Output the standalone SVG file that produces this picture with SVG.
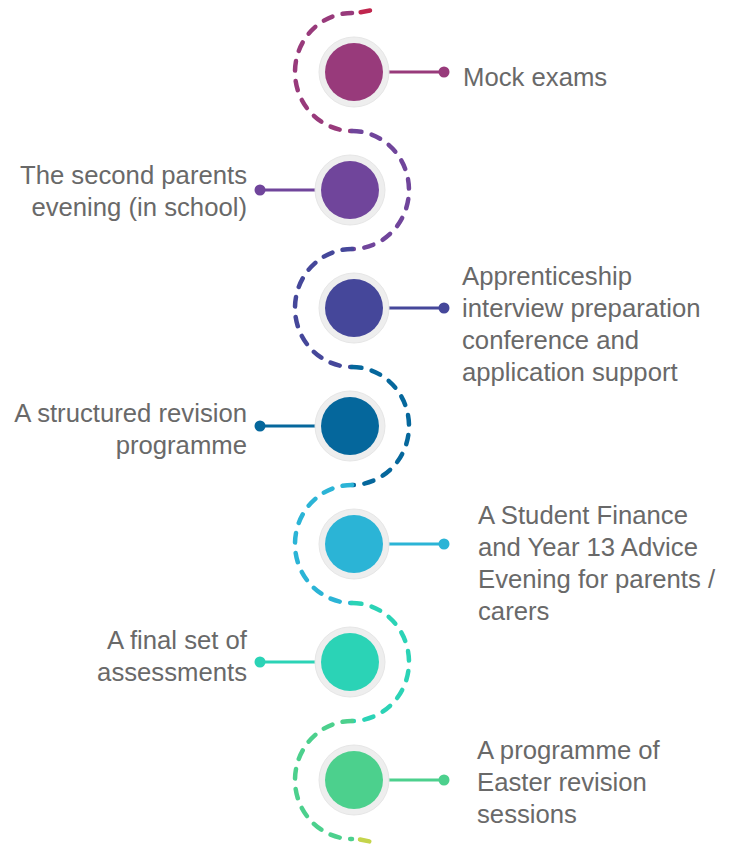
<svg xmlns="http://www.w3.org/2000/svg" width="729" height="845" viewBox="0 0 729 845">
<style>
.bg{fill:#ffffff}
.ring{fill:#eeeeee;stroke:#e6e6e6;stroke-width:1}
.dash{fill:none;stroke-width:4.5;stroke-linecap:round;stroke-dasharray:9.5 10.5}
.lead{stroke-width:3;fill:none}
.t{font-family:"Liberation Sans",Arial,sans-serif;font-size:25.7px;fill:#696969}
.l{text-anchor:end}
</style>
<rect class="bg" x="0" y="0" width="729" height="845"/>
<g id="connectors">
<path class="dash" stroke="#C0264E" d="M 370 10.5 L 359 12.5"/>
<path class="dash" stroke="#983A7B" d="M 352 13 A 57 59 0 0 0 352 131"/>
<path class="dash" stroke="#70459B" d="M 352 131 A 57 59 0 0 1 352 249"/>
<path class="dash" stroke="#45479A" d="M 352 249 A 57 59 0 0 0 352 367"/>
<path class="dash" stroke="#05679C" d="M 352 367 A 57 59 0 0 1 352 485"/>
<path class="dash" stroke="#2BB4D6" d="M 352 485 A 57 59 0 0 0 352 603"/>
<path class="dash" stroke="#2BD3B6" d="M 352 603 A 57 59 0 0 1 352 721"/>
<path class="dash" stroke="#4CD08D" d="M 352 721 A 57 59 0 0 0 352 839"/>
<path class="dash" stroke="#C4D44B" d="M 360 839.5 L 370 841.5"/>
</g>
<g id="node1">
<line class="lead" stroke="#983A7B" x1="383" y1="72" x2="444" y2="72"/>
<circle cx="444" cy="72" r="5.5" fill="#983A7B"/>
<circle class="ring" cx="354" cy="72" r="35"/>
<circle cx="354" cy="72" r="29" fill="#983A7B"/>
<text class="t" x="463" y="86">Mock exams</text>
</g>
<g id="node2">
<line class="lead" stroke="#70459B" x1="260" y1="190" x2="321" y2="190"/>
<circle cx="260" cy="190" r="5.5" fill="#70459B"/>
<circle class="ring" cx="350" cy="190" r="35"/>
<circle cx="350" cy="190" r="29" fill="#70459B"/>
<text class="t l" x="247" y="184">The second parents</text>
<text class="t l" x="247" y="216">evening (in school)</text>
</g>
<g id="node3">
<line class="lead" stroke="#45479A" x1="383" y1="308" x2="444" y2="308"/>
<circle cx="444" cy="308" r="5.5" fill="#45479A"/>
<circle class="ring" cx="354" cy="308" r="35"/>
<circle cx="354" cy="308" r="29" fill="#45479A"/>
<text class="t" x="462" y="285">Apprenticeship</text>
<text class="t" x="462" y="317">interview preparation</text>
<text class="t" x="462" y="349">conference and</text>
<text class="t" x="462" y="381">application support</text>
</g>
<g id="node4">
<line class="lead" stroke="#05679C" x1="260" y1="426" x2="321" y2="426"/>
<circle cx="260" cy="426" r="5.5" fill="#05679C"/>
<circle class="ring" cx="350" cy="426" r="35"/>
<circle cx="350" cy="426" r="29" fill="#05679C"/>
<text class="t l" x="247" y="422">A structured revision</text>
<text class="t l" x="247" y="454">programme</text>
</g>
<g id="node5">
<line class="lead" stroke="#2BB4D6" x1="383" y1="544" x2="444" y2="544"/>
<circle cx="444" cy="544" r="5.5" fill="#2BB4D6"/>
<circle class="ring" cx="354" cy="544" r="35"/>
<circle cx="354" cy="544" r="29" fill="#2BB4D6"/>
<text class="t" x="478" y="524">A Student Finance</text>
<text class="t" x="478" y="556">and Year 13 Advice</text>
<text class="t" x="478" y="588">Evening for parents /</text>
<text class="t" x="478" y="620">carers</text>
</g>
<g id="node6">
<line class="lead" stroke="#2BD3B6" x1="260" y1="662" x2="321" y2="662"/>
<circle cx="260" cy="662" r="5.5" fill="#2BD3B6"/>
<circle class="ring" cx="350" cy="662" r="35"/>
<circle cx="350" cy="662" r="29" fill="#2BD3B6"/>
<text class="t l" x="247" y="649">A final set of</text>
<text class="t l" x="247" y="681">assessments</text>
</g>
<g id="node7">
<line class="lead" stroke="#4CD08D" x1="383" y1="780" x2="444" y2="780"/>
<circle cx="444" cy="780" r="5.5" fill="#4CD08D"/>
<circle class="ring" cx="354" cy="780" r="35"/>
<circle cx="354" cy="780" r="29" fill="#4CD08D"/>
<text class="t" x="477" y="759">A programme of</text>
<text class="t" x="477" y="791">Easter revision</text>
<text class="t" x="477" y="823">sessions</text>
</g>
</svg>
